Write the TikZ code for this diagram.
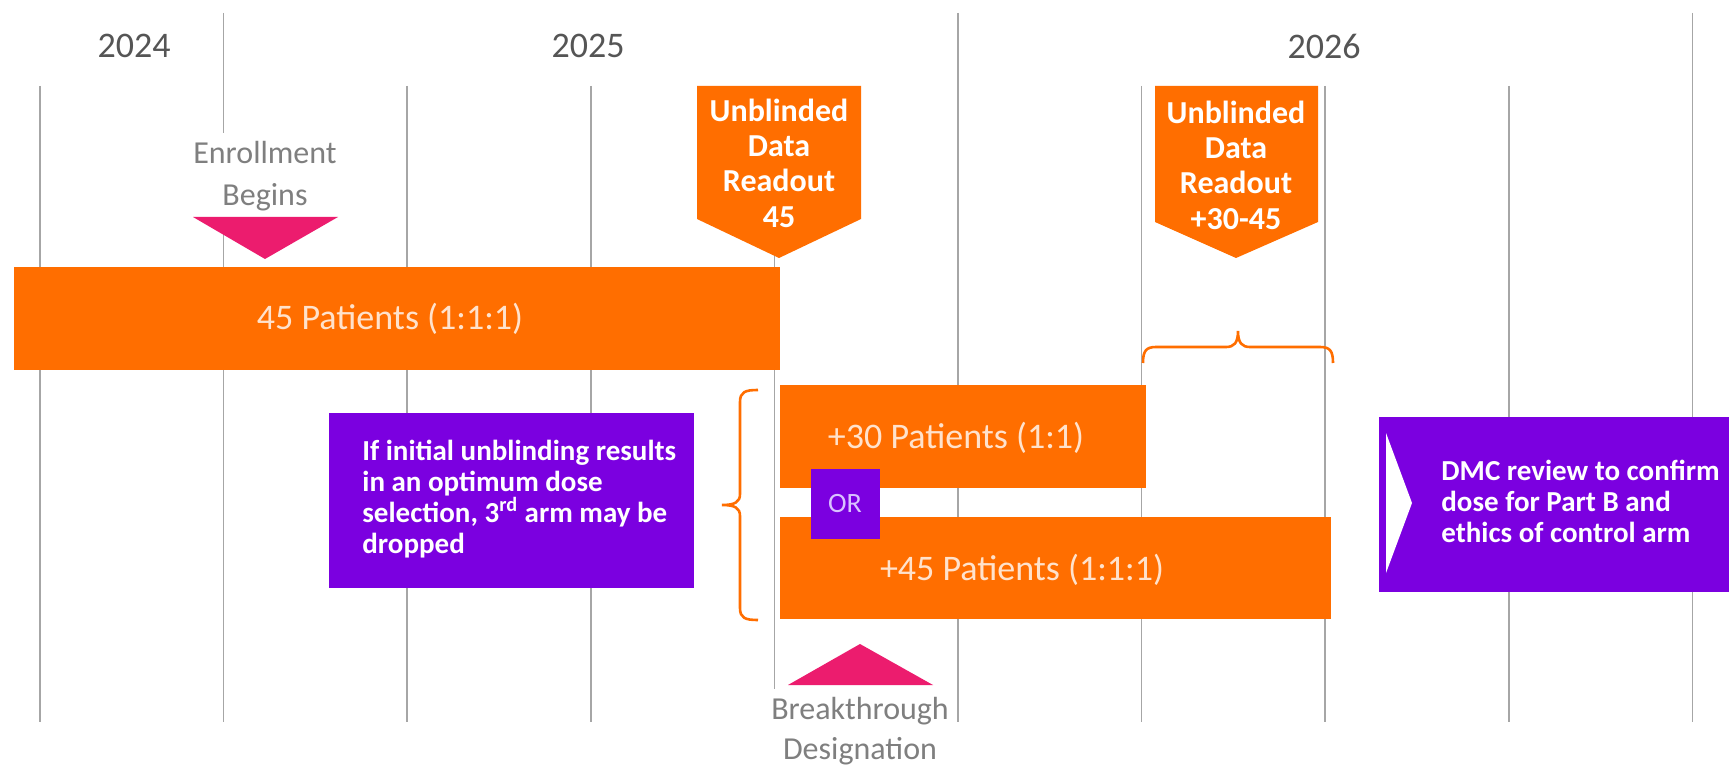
\documentclass[tikz,border=0pt]{standalone}
\usepackage{fontspec}
\setmainfont{Carlito}
\definecolor{barorange}{HTML}{FF6E00}
\definecolor{notepurple}{HTML}{7B00E0}
\definecolor{markpink}{HTML}{EC1C6E}
\definecolor{linegray}{HTML}{A6A6A6}
\definecolor{yeargray}{HTML}{555555}
\definecolor{labgray}{HTML}{7F7F7F}
\definecolor{pattext}{HTML}{FFE2CC}
\definecolor{ortext}{HTML}{D9C2FF}
\begin{document}
\begin{tikzpicture}[x=0.5pt,y=-0.5pt,
  gridline/.style={draw=linegray, line width=0.8pt},
  year/.style={text=yeargray, font=\fontsize{18}{22}\selectfont, inner sep=0pt},
  pat/.style={text=pattext, font=\fontsize{18}{22}\selectfont, inner sep=0pt},
  ub/.style={text=white, font=\bfseries\fontsize{16}{17.7}\selectfont, align=center, inner sep=0pt},
  note/.style={text=white, font=\bfseries\fontsize{14.5}{15.5}\selectfont, align=left, inner sep=0pt, anchor=west},
  evlabel/.style={text=labgray, font=\fontsize{16}{21}\selectfont, align=center, fill=white, inner xsep=1pt, inner ysep=4pt},
  orbox/.style={fill=notepurple, text=ortext, font=\fontsize{14}{17}\selectfont, minimum width=34.5pt, minimum height=35pt, inner sep=0pt},
  brace/.style={draw=barorange, line width=1.3pt}
]
\useasboundingbox (0,0) rectangle (1729,770);
\fill[white] (0,0) rectangle (1729,770);

% grid lines
\foreach \k in {0,2,3,4,6,7,8} {
  \draw[gridline] ({40+183.6*\k},86) -- ({40+183.6*\k},722);
}
\foreach \k in {1,5,9} {
  \draw[gridline] ({40+183.6*\k},13) -- ({40+183.6*\k},722);
}

% years
\node[year] (y2024) at (134,46) {2024};
\node[year] (y2025) at (588,46) {2025};
\node[year] (y2026) at (1324,46) {2026};

% enrollment
\node[evlabel] (enroll) at (265,176) {Enrollment\\Begins};
\fill[markpink] (193,217) -- (338,217) -- (265,259) -- cycle;

% unblinded boxes
\fill[barorange] (697,86) -- (861,86) -- (861,219) -- (779,258) -- (697,219) -- cycle;
\node[ub] (ub1) at (779,163) {Unblinded\\Data\\Readout\\45};
\fill[barorange] (1155,86) -- (1318,86) -- (1318,222) -- (1236,258) -- (1155,222) -- cycle;
\node[ub] (ub2) at (1236,165) {Unblinded\\Data\\Readout\\+30-45};

% bars
\fill[barorange] (14,267) rectangle (780,370);
\node[pat] (p45) at (390,319) {45 Patients (1:1:1)};
\fill[barorange] (780,385) rectangle (1146,488);
\node[pat] (p30) at (956,438) {+30 Patients (1:1)};
\fill[barorange] (780,517) rectangle (1331,619);
\node[pat] (p45b) at (1022,570) {+45 Patients (1:1:1)};

\node[orbox] (or) at (845,504) {OR};

% braces
\draw[brace] (758,390) .. controls (745,390) and (740,392) .. (740,402) -- (740,494)
  .. controls (740,502) and (735,505) .. (722,505)
  .. controls (735,505) and (740,508) .. (740,516) -- (740,608)
  .. controls (740,618) and (745,620) .. (758,620);
\draw[brace] (1143,363) .. controls (1143,351) and (1146,347) .. (1156,347) -- (1226,347)
  .. controls (1234,347) and (1238,343) .. (1238,331)
  .. controls (1238,343) and (1242,347) .. (1250,347) -- (1320,347)
  .. controls (1330,347) and (1333,351) .. (1333,363);

% notes
\fill[notepurple] (329,413) rectangle (694,588);
\node[note] (n1) at (362,499) {If initial unblinding results\\in an optimum dose\\selection, 3\textsuperscript{rd} arm may be\\dropped};
\fill[notepurple] (1379,417) rectangle (1729,592);
\fill[white] (1386,433) -- (1412,503) -- (1386,573) -- cycle;
\node[note] (n2) at (1441,501) {DMC review to confirm\\dose for Part B and\\ethics of control arm};

% breakthrough
\fill[markpink] (788,685) -- (933,685) -- (860,644) -- cycle;
\node[evlabel, font=\fontsize{16}{20}\selectfont] (btd) at (860,731) {Breakthrough\\Designation};
\end{tikzpicture}
\end{document}
